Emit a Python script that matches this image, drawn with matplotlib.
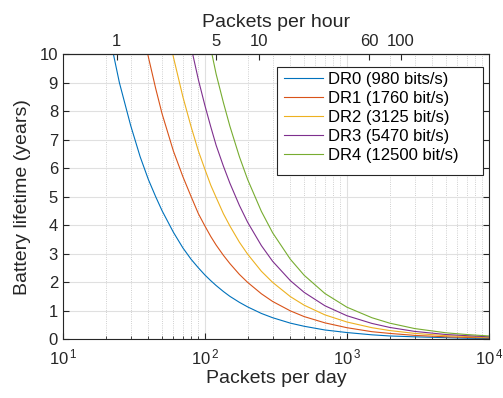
import numpy as np
import matplotlib
matplotlib.use("Agg")
import matplotlib.pyplot as plt
from matplotlib.patches import Rectangle

# Packets per day (x) and battery lifetime in years for each data rate
packets_per_day = [20, 25, 30, 35, 40, 45, 50, 60, 70, 80, 90, 100, 110, 120, 135, 150,
                   175, 200, 250, 300, 400, 500, 700, 1000, 1500, 2000, 3000, 5000, 7000, 10000]

dr0 = [11.3, 9.0, 7.5, 6.4, 5.6, 5.0, 4.5, 3.75, 3.2, 2.8, 2.5, 2.25, 2.05, 1.88, 1.67, 1.5,
       1.29, 1.13, 0.9, 0.75, 0.56, 0.45, 0.32, 0.23, 0.15, 0.11, 0.08, 0.05, 0.03, 0.02]
dr1 = [19.9, 15.9, 13.2, 11.3, 9.9, 8.8, 7.9, 6.6, 5.7, 5.0, 4.4, 3.97, 3.6, 3.3, 2.94, 2.65,
       2.27, 1.99, 1.59, 1.32, 0.99, 0.79, 0.57, 0.40, 0.26, 0.20, 0.13, 0.08, 0.06, 0.04]
dr2 = [29.8, 23.8, 19.9, 17.0, 14.9, 13.2, 11.9, 9.9, 8.5, 7.45, 6.6, 5.96, 5.4, 4.97, 4.4, 3.97,
       3.4, 2.98, 2.38, 1.99, 1.49, 1.19, 0.85, 0.60, 0.40, 0.30, 0.20, 0.12, 0.09, 0.06]
dr3 = [41.0, 32.8, 27.3, 23.4, 20.5, 18.2, 16.4, 13.7, 11.7, 10.25, 9.1, 8.2, 7.45, 6.8, 6.07, 5.47,
       4.69, 4.1, 3.28, 2.73, 2.05, 1.64, 1.17, 0.82, 0.55, 0.41, 0.27, 0.16, 0.12, 0.08]
dr4 = [56.0, 44.8, 37.3, 32.0, 28.0, 24.9, 22.4, 18.7, 16.0, 14.0, 12.4, 11.2, 10.2, 9.3, 8.3, 7.47,
       6.4, 5.6, 4.48, 3.73, 2.8, 2.24, 1.6, 1.12, 0.75, 0.56, 0.37, 0.22, 0.16, 0.11]

labels = ["DR0 (980 bits/s)", "DR1 (1760 bit/s)", "DR2 (3125 bit/s)",
          "DR3 (5470 bit/s)", "DR4 (12500 bit/s)"]
colors = ["#0072BD", "#D95319", "#EDB120", "#7E2F8E", "#77AC30"]

day_ticks = [10, 100, 1000, 10000]
day_tick_labels = [r"$10^{\,1}$", r"$10^{\,2}$", r"$10^{\,3}$", r"$10^{\,4}$"]
hour_ticks = [1, 5, 10, 60, 100]

plt.rcParams["font.family"] = ["Liberation Sans", "DejaVu Sans"]
plt.rcParams["mathtext.fontset"] = "custom"
plt.rcParams["mathtext.rm"] = "Liberation Sans"
plt.rcParams["mathtext.it"] = "Liberation Sans"

fig = plt.figure(figsize=(5.03, 3.98), dpi=100)
ax = fig.add_axes([0.125, 0.148, 0.847, 0.716])

for series, lab, col in zip([dr0, dr1, dr2, dr3, dr4], labels, colors):
    ax.plot(packets_per_day, series, color=col, linewidth=0.8, label=lab)

ax.set_xscale("log")
ax.set_xlim(10, 10000)
ax.set_ylim(0, 10)
ax.set_yticks(range(0, 11))
ax.set_xticks(day_ticks)
ax.set_xticklabels(day_tick_labels)

ax.grid(which="major", color="#e0e0e0", linewidth=0.8, linestyle="-")
ax.grid(which="minor", axis="x", color="#c0c0c0", linewidth=0.6, linestyle=":")

edge = "#262626"
for s in ax.spines.values():
    s.set_color(edge)
    s.set_linewidth(0.8)
ax.tick_params(which="both", direction="in", top=False, right=True, colors=edge,
               labelsize=12, labelcolor="#262626")
ax.tick_params(which="major", length=4)
ax.tick_params(which="minor", length=2)
ax.tick_params(axis="x", which="major", pad=6)

ax.set_xlabel("Packets per day", fontsize=14, color="#262626", labelpad=2)
ax.set_ylabel("Battery lifetime (years)", fontsize=14, color="#262626", labelpad=6)

# Top axis: packets per hour
top = ax.secondary_xaxis("top", functions=(lambda x: x / 24.0, lambda x: x * 24.0))
top.set_xticks(hour_ticks)
top.set_xticklabels([str(h) for h in hour_ticks])
top.xaxis.set_minor_locator(matplotlib.ticker.NullLocator())
top.tick_params(direction="in", length=4, colors=edge, labelsize=12, labelcolor="#262626")
top.spines["top"].set_color(edge)
top.set_xlabel("Packets per hour", fontsize=14, color="#262626", labelpad=5)

# Legend box drawn separately (MATLAB style wide frame)
frame = Rectangle((0.502, 0.575), 0.484, 0.379, transform=ax.transAxes,
                  facecolor="white", edgecolor="#262626", linewidth=0.8, zorder=4.9)
ax.add_patch(frame)
leg = ax.legend(loc="upper left", fontsize=12, frameon=False,
                handlelength=2.3, handletextpad=0.3,
                borderpad=0.3, labelspacing=0.24, borderaxespad=0,
                bbox_to_anchor=(0.508, 0.954))
leg.set_zorder(5)

fig.savefig("out.png", dpi=100)
